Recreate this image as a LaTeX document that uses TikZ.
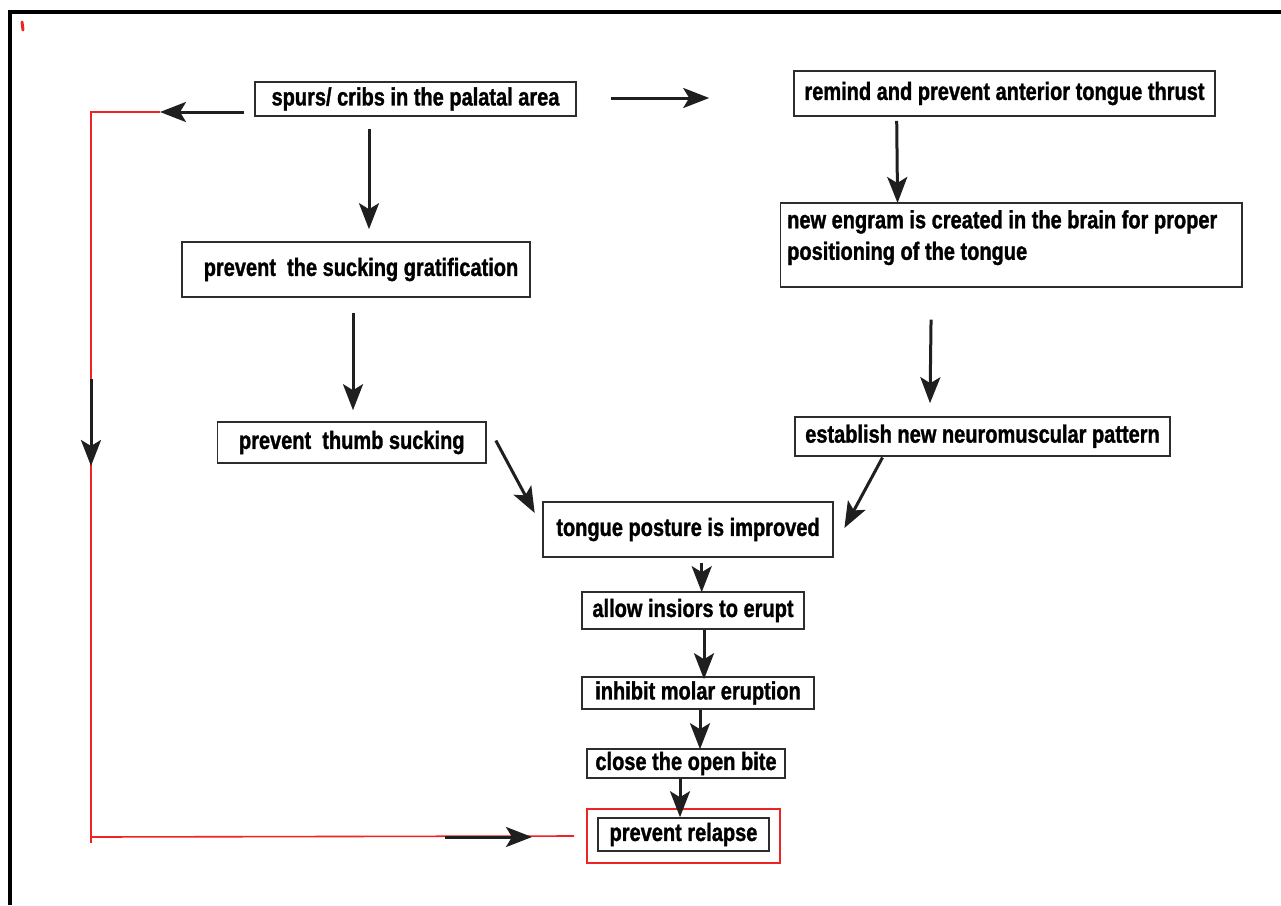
\documentclass[tikz,border=0pt]{standalone}
\usepackage{fontspec}
\newfontfamily\boxfont{Liberation Sans}[FakeStretch=0.8, BoldFeatures={FakeBold=1.2}]
\usetikzlibrary{arrows.meta}
\definecolor{myred}{RGB}{238,36,36}
\definecolor{boxline}{RGB}{45,45,45}
\begin{document}
\begin{tikzpicture}[x=1pt,y=-1pt,
  box/.style={draw=boxline, line width=1.6pt, inner sep=0pt, text=black,
    font=\boxfont\bfseries\fontsize{25}{31.5}\selectfont},
  txt/.style={inner sep=0pt, text=black,
    font=\boxfont\bfseries\fontsize{25}{31.5}\selectfont},
  arr/.style={-{Stealth[length=26pt,width=20pt,inset=6pt]}, line width=3pt, black!88},
  redline/.style={draw=myred, line width=1.6pt},
  frame/.style={draw=black, line width=4.5pt}
]
\useasboundingbox (0,0) rectangle (1281,905);
% outer frame
\draw[frame] (10,905) -- (10,12) -- (1281,12);
\draw[myred, line width=3pt, line cap=round] (22,22) -- (23,30);

% boxes
\node[box, minimum width=321pt, minimum height=34pt] (A) at (415.5,99) {spurs/ cribs in the palatal area};
\node[box, minimum width=421pt, minimum height=45pt] (B) at (1004.5,93.5) {remind and prevent anterior tongue thrust};
\node[box, anchor=north west, minimum width=461.5pt, minimum height=84pt] (C) at (779.5,202) {};
\node[txt, anchor=north west, align=left] (Ct) at (787,210) {new engram is created in the brain for proper\\positioning of the tongue};
\node[box, minimum width=348pt, minimum height=55pt] (D) at (356,269.5) {\hspace*{10pt}prevent\ \ the sucking gratification};
\node[box, minimum width=268.5pt, minimum height=41pt] (E) at (351.75,442.5) {prevent\ \ thumb sucking};
\node[box, minimum width=375pt, minimum height=39pt] (F) at (982.5,436.2) {establish new neuromuscular pattern};
\node[box, minimum width=290pt, minimum height=55pt] (G) at (688,529.5) {tongue posture is improved};
\node[box, minimum width=222pt, minimum height=37pt] (H) at (693,610.5) {allow insiors to erupt};
\node[box, minimum width=232pt, minimum height=32pt] (I) at (698,693) {inhibit molar eruption};
\node[box, minimum width=198pt, minimum height=29pt] (J) at (686,763.5) {close the open bite};
\node[draw=myred, line width=1.8pt, inner sep=0pt, minimum width=193pt, minimum height=54pt] (R) at (683.5,836) {};
\node[box, minimum width=171pt, minimum height=33pt] (K) at (683.5,834.5) {prevent relapse};

% red feedback line
\coordinate (rtop) at (160,112);
\coordinate (rcorner) at (91,112);
\coordinate (rbot) at (91,843);
\coordinate (rleft) at (91,837);
\draw[redline] (rtop) -- (rcorner) -- (rbot);
\draw[redline] (rleft) -- ([xshift=-12pt]R.west);
\coordinate (lv1) at (91,379);
\coordinate (lv2) at (91,466);
\draw[arr] (lv1) -- (lv2);
\coordinate (bh1) at (445,837);
\coordinate (bh2) at (532,837);
\draw[arr] (bh1) -- (bh2);

% arrows
\draw[arr] ([xshift=-10pt,yshift=-13pt]A.west) -- (rtop);
\draw[arr] ([xshift=34pt,yshift=1pt]A.east) -- ([xshift=-84pt,yshift=-4.5pt]B.west);
\draw[arr] ([xshift=-46.5pt,yshift=-12pt]A.south) -- ([xshift=13pt,yshift=12pt]D.north);
\draw[arr] ([xshift=-3pt,yshift=-15pt]D.south) -- ([xshift=1.25pt,yshift=11pt]E.north);
\draw[arr] ([xshift=-107.8pt,yshift=-4pt]B.south) -- ([xshift=-113.5pt,yshift=-1pt]C.north);
\draw[arr] ([xshift=-80pt,yshift=-32pt]C.south) -- ([xshift=-52.5pt,yshift=12.7pt]F.north);
\draw[arr] ([xshift=9pt,yshift=2pt]E.east) -- ([xshift=-7.5pt,yshift=16.5pt]G.west);
\draw[arr] ([xshift=-100pt,yshift=-1pt]F.south) -- ([xshift=10.6pt,yshift=1.5pt]G.east);
\draw[arr] ([xshift=13.7pt,yshift=-4.7pt]G.south) -- ([xshift=8.7pt,yshift=-1pt]H.north);
\draw[arr] ([xshift=11pt]H.south) -- ([xshift=6pt,yshift=-3pt]I.north);
\draw[arr] ([xshift=2pt]I.south) -- ([xshift=14pt,yshift=-1pt]J.north);
\draw[arr] ([xshift=-6pt]J.south) -- ([xshift=-3.5pt]K.north);
\end{tikzpicture}
\end{document}
